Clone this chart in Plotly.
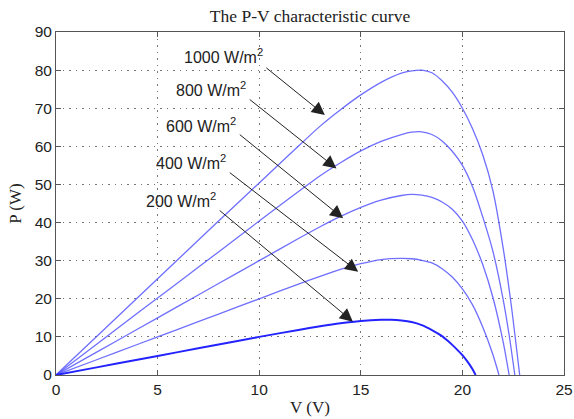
import plotly.graph_objects as go

# ---- data ----
V_1000 = [0, 2, 4, 6, 8, 10, 12, 13, 14, 15, 16, 17, 17.5, 18, 18.5, 19, 19.5, 20, 20.5, 21, 21.5, 22, 22.4, 22.82]
P_1000 = [0, 10.1, 20.2, 30.3, 40.4, 50.4, 60.4, 65.3, 69.6, 73.5, 76.8, 79.2, 79.8, 80.0, 79.3, 77.2, 74.2, 70.0, 64.6, 57.8, 48.4, 33.5, 18.5, 0]

V_800 = [0, 2, 4, 6, 8, 10, 12, 13, 14, 15, 16, 17, 17.5, 18, 18.5, 19, 19.5, 20, 20.5, 21, 21.5, 22, 22.3, 22.58]
P_800 = [0, 8.08, 16.2, 24.2, 32.3, 40.4, 48.4, 52.3, 55.7, 58.8, 61.3, 63.1, 63.7, 63.8, 63.1, 61.4, 58.7, 55.0, 49.4, 41.5, 32.5, 20.0, 10.5, 0]

V_600 = [0, 2, 4, 6, 8, 10, 12, 13, 14, 15, 16, 17, 17.5, 18, 18.5, 19, 19.5, 20, 20.5, 21, 21.5, 22, 22.3]
P_600 = [0, 6.0, 12.0, 18.0, 24.0, 30.0, 36.0, 38.9, 41.6, 44.0, 45.9, 47.1, 47.4, 47.2, 46.6, 45.4, 43.5, 40.4, 35.5, 29.0, 20.4, 8.8, 0]

V_400 = [0, 2, 4, 6, 8, 10, 12, 13, 14, 15, 16, 17, 17.5, 18, 18.5, 19, 19.5, 20, 20.5, 21, 21.5, 21.8]
P_400 = [0, 4.0, 8.0, 12.0, 16.0, 20.0, 24.0, 25.9, 27.7, 29.2, 30.3, 30.6, 30.5, 30.1, 29.4, 27.9, 25.7, 22.6, 18.4, 12.6, 5.4, 0]

V_200 = [0, 2, 4, 6, 8, 10, 12, 13, 14, 15, 16, 16.5, 17, 17.5, 18, 18.5, 19, 19.25, 19.5, 19.75, 20, 20.25, 20.5, 20.65]
P_200 = [0, 2.0, 4.0, 6.0, 8.0, 10.0, 11.9, 12.8, 13.6, 14.2, 14.5, 14.5, 14.3, 13.9, 13.1, 11.8, 10.2, 9.1, 7.9, 6.6, 5.2, 3.5, 1.5, 0]

labels = ["1000 W/m<sup>2</sup>", "800 W/m<sup>2</sup>", "600 W/m<sup>2</sup>",
          "400 W/m<sup>2</sup>", "200 W/m<sup>2</sup>"]

x_ticks = [0, 5, 10, 15, 20, 25]
y_ticks = [0, 10, 20, 30, 40, 50, 60, 70, 80, 90]

# label anchors and arrow start/end (data units)
label_pos = [(6.2, 83.6), (5.8, 75.0), (5.3, 65.6), (4.82, 56.0), (4.33, 45.9)]
arrow_from = [(10.28, 80.9), (9.46, 72.6), (8.97, 63.4), (8.48, 53.4), (7.98, 43.5)]
arrow_to = [(13.23, 68.2), (13.8, 54.2), (14.13, 41.1), (14.87, 27.1), (14.61, 14.0)]

fig = go.Figure()
light = "rgba(70,70,255,0.78)"
series = [(V_1000, P_1000, light, 1.3), (V_800, P_800, light, 1.3), (V_600, P_600, light, 1.3),
          (V_400, P_400, light, 1.3), (V_200, P_200, "rgb(35,35,255)", 2.0)]
for vx, py, col, w in series:
    fig.add_trace(go.Scatter(x=vx, y=py, mode="lines",
                             line=dict(color=col, width=w, shape="spline", smoothing=0.7),
                             showlegend=False, hoverinfo="skip"))

for (lx, ly), txt in zip(label_pos, labels):
    fig.add_annotation(x=lx, y=ly, xref="x", yref="y", text=txt, showarrow=False,
                       xanchor="left", yanchor="middle",
                       font=dict(family="Liberation Sans, Arial, sans-serif", size=16, color="#222"))
for (ax_, ay_), (tx, ty) in zip(arrow_from, arrow_to):
    fig.add_annotation(x=tx, y=ty, xref="x", yref="y", ax=ax_, ay=ay_, axref="x", ayref="y",
                       text="", showarrow=True, arrowhead=2, arrowsize=2.6, arrowwidth=1,
                       arrowcolor="#222", standoff=0, startstandoff=0)

axis_common = dict(
    showline=True, linecolor="#555", linewidth=1, mirror="allticks",
    ticks="inside", ticklen=5, tickcolor="#555",
    showgrid=True, gridcolor="#777", griddash="1.5px,5px", gridwidth=1,
    zeroline=False, automargin=False,
    tickfont=dict(family="Liberation Sans, Arial, sans-serif", size=15.5, color="#222"),
)
fig.update_xaxes(range=[0, 25], tickvals=x_ticks, **axis_common,
                 title=dict(text="V (V)", standoff=4,
                            font=dict(family="Liberation Serif, Times New Roman, serif", size=17, color="#222")))
fig.update_yaxes(range=[0, 90], tickvals=y_ticks, **axis_common,
                 title=dict(text="P (W)", standoff=8,
                            font=dict(family="Liberation Serif, Times New Roman, serif", size=17, color="#222")))

fig.update_layout(
    width=574, height=419,
    margin=dict(l=56, r=10, t=32, b=44),
    paper_bgcolor="white", plot_bgcolor="white",
    title=dict(text="The P-V characteristic curve", x=0.5, xref="paper", xanchor="center",
               y=1 - 16 / 419, yref="container", yanchor="middle",
               font=dict(family="Liberation Serif, Times New Roman, serif", size=17.5, color="#222")),
)

fig.write_html("out.html")
